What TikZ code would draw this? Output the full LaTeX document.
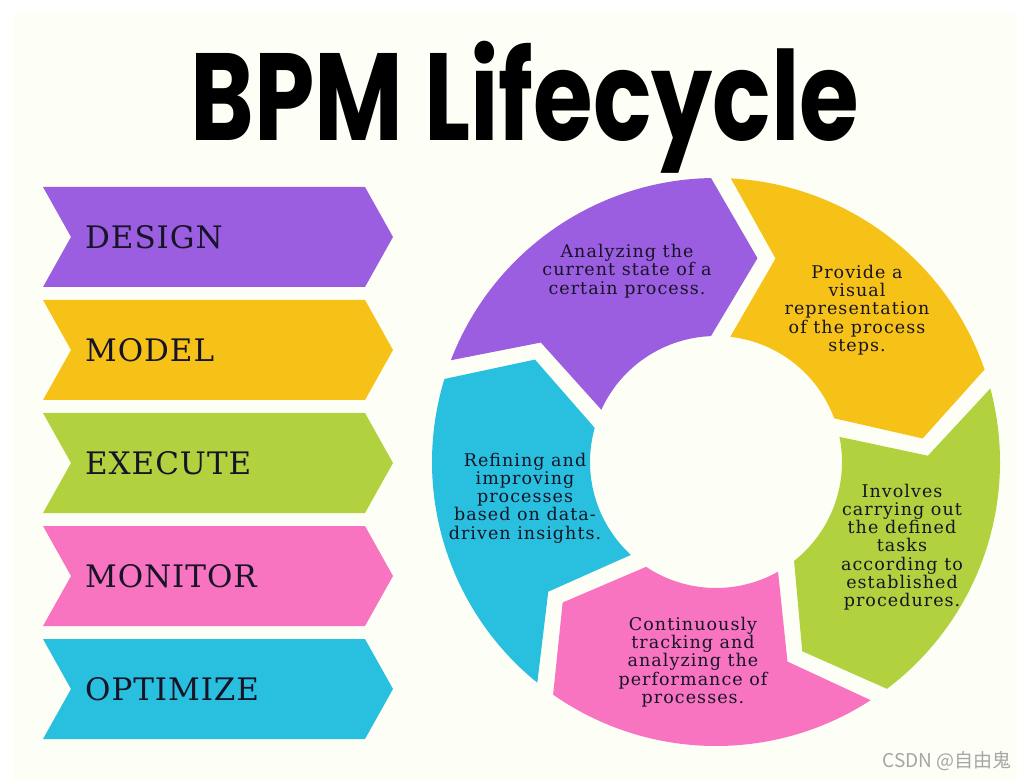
\documentclass[tikz,border=0pt]{standalone}
\usepackage{fontspec}
\usepackage{graphicx}
\usetikzlibrary{calc,positioning}
\setmainfont{DejaVu Serif}
\newfontfamily\titlefont{Poppins}
\newfontfamily\stepfont{DejaVu Serif}[LetterSpace=3]
\newfontfamily\ringfont{DejaVu Serif}[LetterSpace=6]
\newfontfamily\cjk{Noto Sans CJK SC}
\definecolor{cream}{RGB}{253,254,245}
\definecolor{cpurple}{RGB}{155,94,225}
\definecolor{cyellow}{RGB}{247,194,24}
\definecolor{cgreen}{RGB}{178,209,63}
\definecolor{cpink}{RGB}{248,115,192}
\definecolor{ccyan}{RGB}{41,192,224}
\definecolor{ink}{RGB}{22,20,38}
\tikzstyle{steplabel}=[anchor=west, inner sep=0pt, text=ink,
                       font=\stepfont\fontsize{31}{31}\selectfont]
\tikzstyle{ringtext} =[align=center, inner sep=0pt, text=ink,
                       font=\ringfont\fontsize{17.5}{18.2}\selectfont]
\tikzstyle{watermark}=[anchor=base east, inner sep=0pt, text=black!35,
                       font=\cjk\fontsize{19}{19}\selectfont]

\begin{document}
\begin{tikzpicture}[x=1pt, y=1pt]
    \fill[white] (0,0) rectangle (1017,780);
    \fill[cream] (13,0) rectangle (1017,767);
    \useasboundingbox (0,0) rectangle (1017,780);
    \node (title) [anchor=base, inner sep=0pt] at (525,639)
        {\scalebox{0.78}[1]{\titlefont\bfseries\fontsize{124}{124}\selectfont BPM Lifecycle}};
    \foreach \lbl/\col/\yc in {DESIGN/cpurple/543, MODEL/cyellow/430,
            EXECUTE/cgreen/317, MONITOR/cpink/204, OPTIMIZE/ccyan/91}{
        \fill[\col] (43,\yc+50) -- (365,\yc+50) -- (393,\yc) -- (365,\yc-50)
            -- (43,\yc-50) -- (71,\yc) -- cycle;
        \node (\lbl) [steplabel] at (85,\yc) {\lbl};
    }
    \begin{scope}[shift={(716,318)}]
        \foreach \a/\col in {159/cpurple, 87/cyellow, 15/cgreen, -57/cpink, -129/ccyan}{
            \pgfmathsetmacro\b{\a-68}
            \fill[\col] (\a:284) arc[start angle=\a, end angle=\b, radius=284]
                -- ({\b-12.5}:208) -- ({\b+1.3}:126)
                arc[start angle=\b+1.3, end angle=\a-3.5, radius=126]
                -- ({\a-13.3}:212) -- cycle;
        }
    \end{scope}
    \node (analyze) [ringtext] at (627,509)
        {Analyzing the\\current state of a\\certain process.};
    \node (visual) [ringtext] at (857,470)
        {Provide a\\visual\\representation\\of the process\\steps.};
    \node (involve) [ringtext] at (902,233)
        {Involves\\carrying out\\the defined\\tasks\\according to\\established\\procedures.};
    \node (track) [ringtext] at (693,118)
        {Continuously\\tracking and\\analyzing the\\performance of\\processes.};
    \node (refine) [ringtext] at (525,282)
        {Refining and\\improving\\processes\\based on data-\\driven insights.};
    \node (csdn) [watermark] at (1012,13) {CSDN @自由鬼};
\end{tikzpicture}
\end{document}
